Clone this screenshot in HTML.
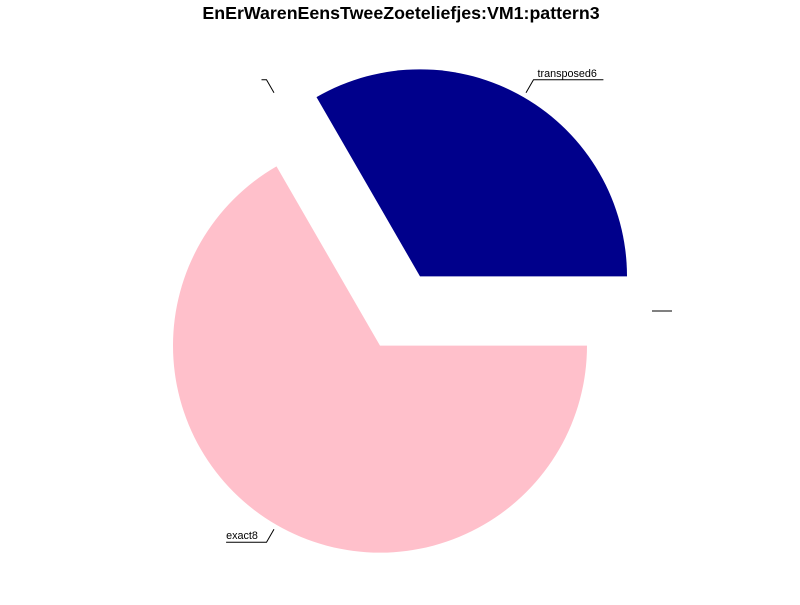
<!DOCTYPE html>
<html><head><meta charset="utf-8"><style>
body{margin:0;background:#fff;}
svg text{font-family:"Liberation Sans",sans-serif;}
</style></head><body>
<svg id="chart" width="800" height="600">
<text x="401" y="19" text-anchor="middle" font-size="17.8" font-weight="bold">EnErWarenEensTweeZoeteliefjes:VM1:pattern3</text>
<g id="slices"></g>
<g id="labels"></g>
</svg>
<script>
const labels = ["transposed6", "", "exact8", ""];
const values = [1, 0, 2, 0];
const colors = ["#00008b", "#ffffff", "#ffc0cb", "#ffffff"];

const cx = 400, cy = 311, R = 207, explode = 40;
const NS = "http://www.w3.org/2000/svg";
const gS = document.getElementById("slices"), gL = document.getElementById("labels");
const total = values.reduce((a, b) => a + b, 0);
let start = 0;
values.forEach((v, i) => {
  const a0 = start, a1 = start + v / total * 2 * Math.PI;
  start = a1;
  const mid = (a0 + a1) / 2;
  const ox = cx + explode * Math.cos(mid), oy = cy - explode * Math.sin(mid);
  if (v > 0) {
    const p = document.createElementNS(NS, "path");
    const x0 = ox + R * Math.cos(a0), y0 = oy - R * Math.sin(a0);
    const x1 = ox + R * Math.cos(a1), y1 = oy - R * Math.sin(a1);
    const large = (a1 - a0) > Math.PI ? 1 : 0;
    p.setAttribute("d", `M${ox},${oy} L${x0},${y0} A${R},${R} 0 ${large} 0 ${x1},${y1} Z`);
    p.setAttribute("fill", colors[i]);
    
    
    gS.appendChild(p);
  }
  const dx = Math.cos(mid), dy = -Math.sin(mid);
  const sx = ox + (R + 5) * dx, sy = oy + (R + 5) * dy;
  const ex = ox + (R + 20) * dx, ey = oy + (R + 20) * dy;
  const right = dx >= -1e-6;
  const tw = labels[i] ? labels[i].length * 5.9 : 0;
  const hx = ex + (right ? 1 : -1) * (tw + 5);
  const line = document.createElementNS(NS, "polyline");
  line.setAttribute("points", `${sx},${sy} ${ex},${ey} ${hx},${ey}`);
  line.setAttribute("fill", "none");
  line.setAttribute("stroke", "#000");
  line.setAttribute("stroke-width", "1");
  
  
  gL.appendChild(line);
  if (labels[i]) {
    const t = document.createElementNS(NS, "text");
    t.setAttribute("x", right ? ex + 4 : hx);
    t.setAttribute("y", ey - 3);
    t.setAttribute("font-size", "10.8");
    t.textContent = labels[i];
    
    
    gL.appendChild(t);
  }
});
</script>
</body></html>
